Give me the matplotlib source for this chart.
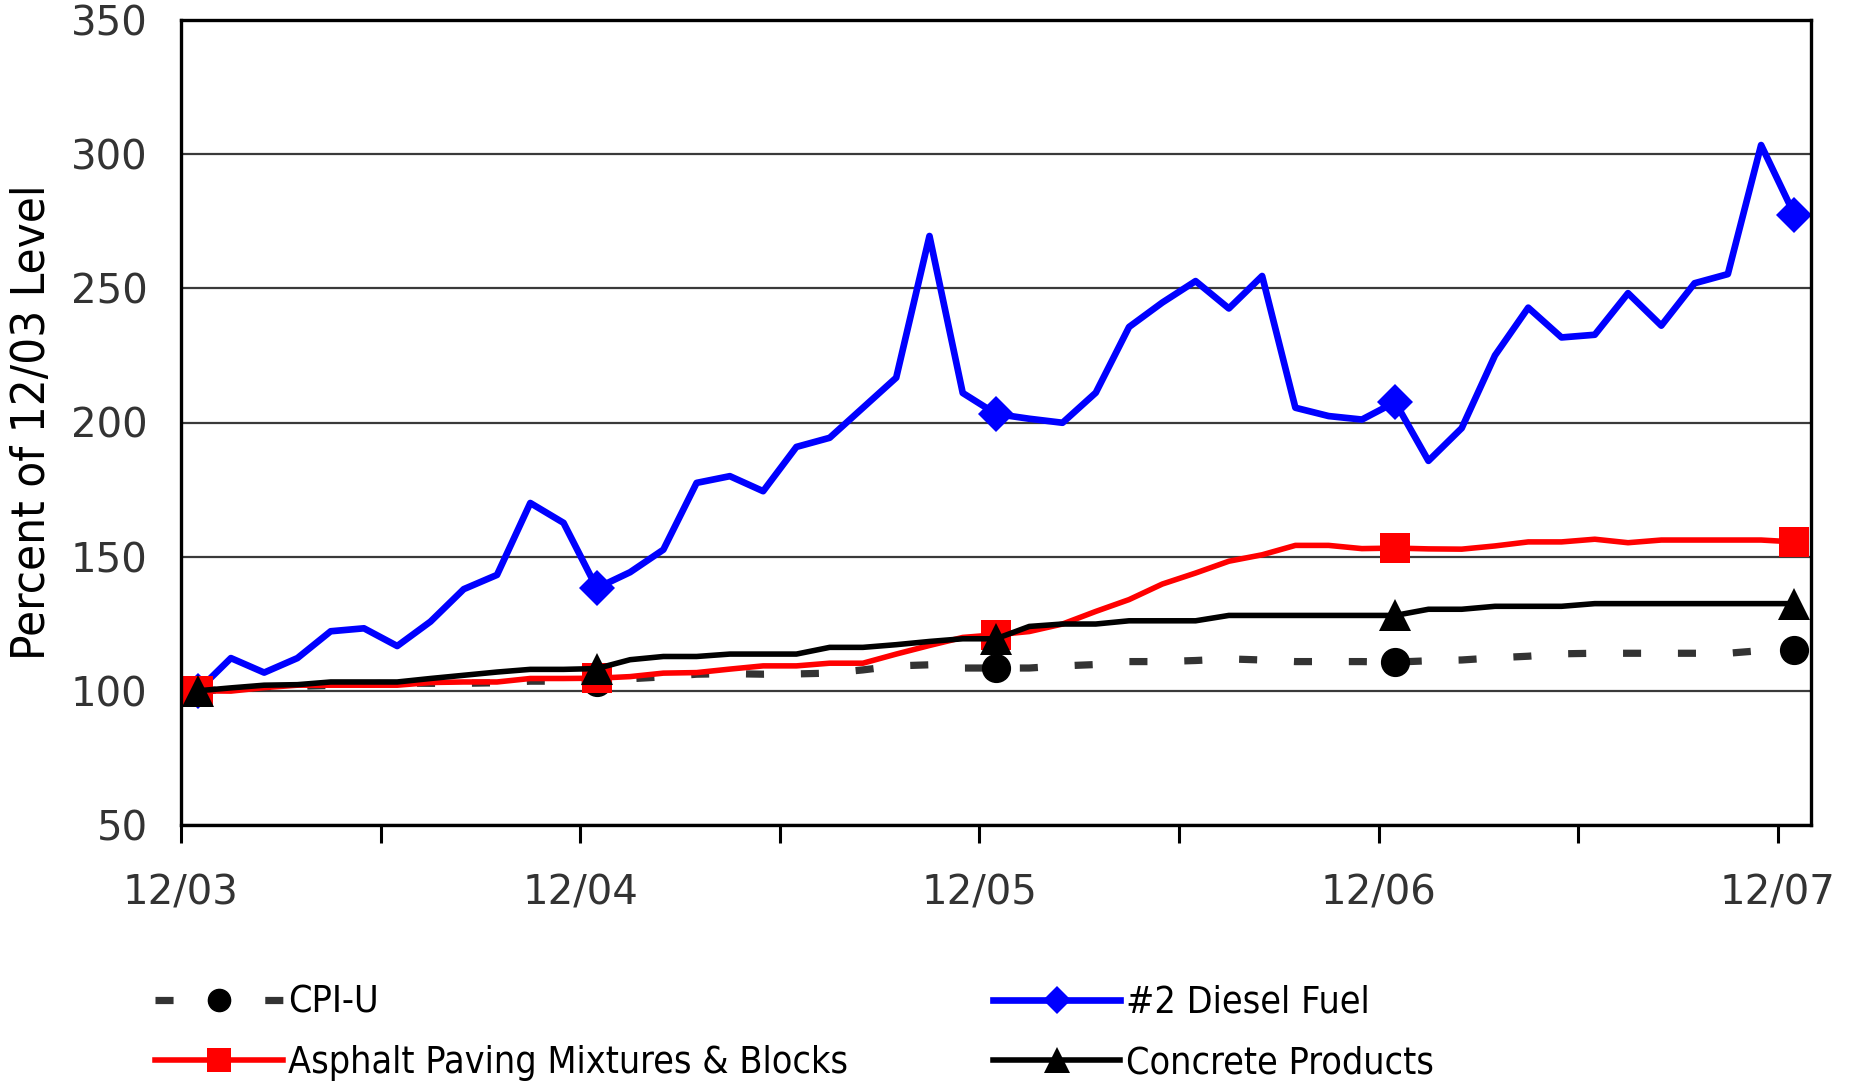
import matplotlib
matplotlib.use("Agg")
import matplotlib.pyplot as plt

# monthly index values, 12/03 = 100
months = ["12/03", "12/04", "12/05", "12/06", "12/07"]

cpi = [100, 100.5, 101.1, 101.7, 102.0, 102.6, 102.9, 102.8, 102.8, 103.0, 103.6, 103.6,
       103.3, 104.5, 105.2, 106.2, 106.4, 106.2, 106.3, 106.6, 107.8, 109.3, 109.7, 108.5,
       108.5, 108.5, 109.3, 109.8, 110.9, 110.9, 111.3, 111.9, 111.5, 110.9, 110.9, 110.9,
       110.7, 111.2, 111.5, 112.3, 112.9, 113.8, 114.0, 114.0, 114.0, 114.0, 114.0, 115.0, 115.1]

diesel = [100, 112.2, 106.8, 112.2, 122.2, 123.3, 116.7, 125.8, 137.9, 143.2, 170.0, 162.6,
          138.3, 144.2, 152.6, 177.5, 180.0, 174.4, 190.9, 194.3, 205.5, 216.7, 269.5, 211.0,
          203.2, 201.4, 199.9, 211.1, 235.6, 244.7, 252.7, 242.5, 254.6, 205.5, 202.4, 201.1,
          207.6, 185.7, 197.9, 225.0, 242.8, 231.7, 232.7, 248.2, 236.1, 251.9, 255.3, 303.4, 277.5]

asphalt = [100, 99.9, 101.2, 102.1, 102.1, 102.1, 102.1, 103.1, 103.3, 103.3, 104.6, 104.6,
           104.7, 105.3, 106.6, 106.8, 108.1, 109.3, 109.3, 110.3, 110.3, 113.7, 116.9, 119.9,
           120.9, 122.1, 124.9, 129.6, 134.0, 139.8, 143.9, 148.3, 150.7, 154.2, 154.2, 153.0,
           153.2, 152.9, 152.8, 154.0, 155.5, 155.5, 156.5, 155.2, 156.2, 156.2, 156.2, 156.2, 155.5]

concrete = [100, 101.1, 102.1, 102.3, 103.3, 103.3, 103.3, 104.6, 105.8, 107.0, 108.0, 108.0,
            108.3, 111.6, 112.8, 112.8, 113.7, 113.7, 113.7, 116.2, 116.2, 117.2, 118.4, 119.4,
            119.4, 124.0, 124.9, 124.9, 126.1, 126.1, 126.1, 128.1, 128.1, 128.1, 128.1, 128.1,
            128.1, 130.4, 130.4, 131.5, 131.5, 131.5, 132.5, 132.5, 132.5, 132.5, 132.5, 132.5, 132.5]

# narrow face for the axis title and legend
NARROW = {"family": "DejaVu Sans", "stretch": "condensed"}

fig = plt.figure(figsize=(18.56, 10.85), dpi=100)
ax = fig.add_axes([181 / 1856, 1 - 825 / 1085, 1630 / 1856, 805 / 1085])

x = list(range(len(cpi)))

l_cpi, = ax.plot(x, cpi, color="#333333", lw=5.2, linestyle=(0, (2.5, 5.1)),
                 marker="o", markersize=20, markevery=12,
                 markerfacecolor="black", markeredgecolor="black", label="CPI-U")
l_die, = ax.plot(x, diesel, color="#0000ff", lw=4.8, marker="D", markersize=18,
                 markevery=12, markeredgewidth=0, label="#2 Diesel Fuel")
l_asp, = ax.plot(x, asphalt, color="#ff0000", lw=4, marker="s", markersize=21,
                 markevery=12, markeredgewidth=0, label="Asphalt Paving Mixtures & Blocks")
l_con, = ax.plot(x, concrete, color="black", lw=4, marker="^", markersize=23,
                 markevery=12, markeredgewidth=0, label="Concrete Products")

ax.set_xlim(-0.5, len(cpi) - 0.5)
ax.set_ylim(50, 350)
ax.set_yticks(range(50, 351, 50))

ax.set_xticks([-0.5 + 12 * k for k in range(len(months))])
ax.set_xticklabels(months)
ax.set_xticks([5.5 + 12 * k for k in range(4)], minor=True)

ax.tick_params(axis="x", which="both", direction="out", length=13, width=2.2,
               pad=22, labelsize=29, labelcolor="#333333")
ax.tick_params(axis="y", length=0, pad=24, labelsize=29, labelcolor="#333333")

ax.yaxis.grid(True, color="#3a3a3a", lw=1.6)
ax.set_axisbelow(True)
for s in ax.spines.values():
    s.set_linewidth(2.4)
    s.set_color("black")

ax.set_ylabel("Percent of 12/03 Level", fontsize=34, **NARROW)
ax.yaxis.set_label_coords(-0.077, 0.5)

leg = ax.legend([l_cpi, l_asp, l_die, l_con],
                ["CPI-U", "Asphalt Paving Mixtures & Blocks", "#2 Diesel Fuel", "Concrete Products"],
                ncol=2, loc="upper left", bbox_to_anchor=(-0.025, -0.18),
                frameon=False, prop=dict(size=27, **NARROW),
                handlelength=3.4, handletextpad=0.15, columnspacing=3.85,
                labelspacing=0.65, markerscale=0.8, borderaxespad=0)

fig.savefig("out.png", dpi=100)
